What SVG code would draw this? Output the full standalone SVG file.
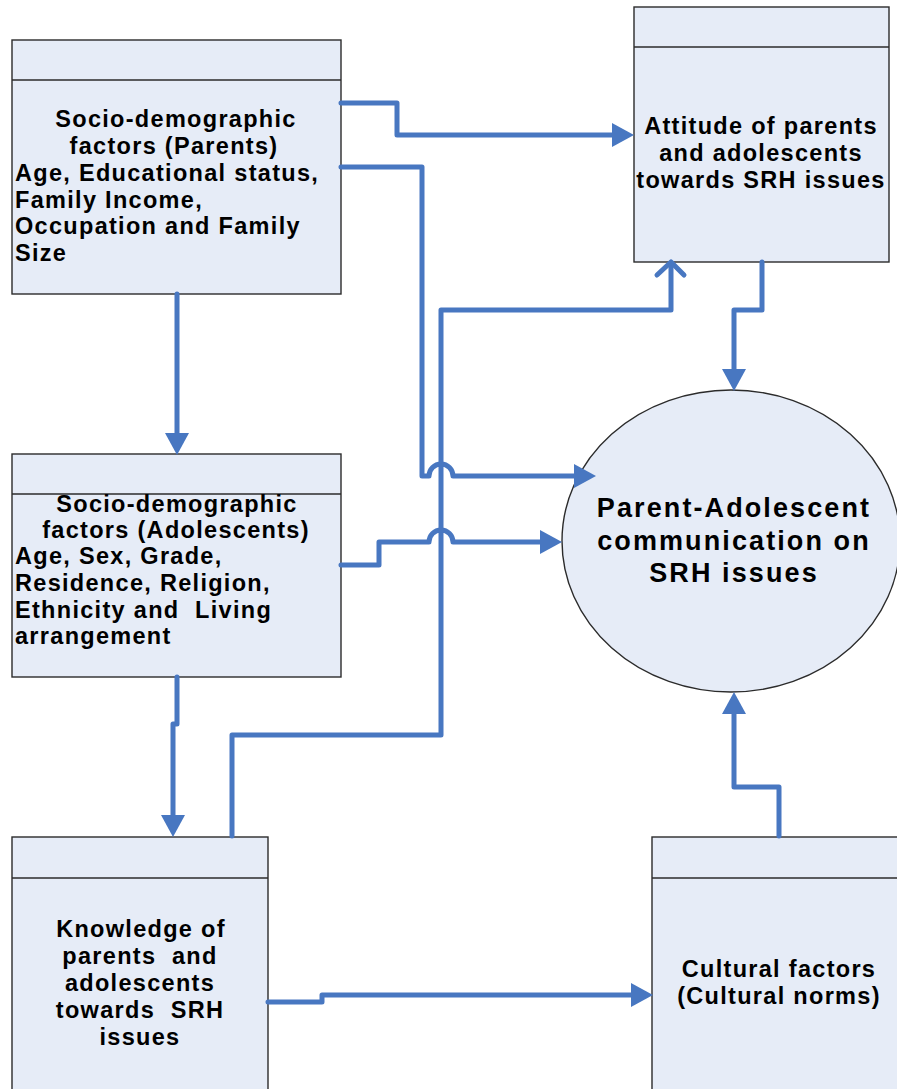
<svg xmlns="http://www.w3.org/2000/svg" width="897" height="1089" viewBox="0 0 897 1089">
<style>
.box{fill:#E6ECF7;stroke:#2b2b2b;stroke-width:1.4}
.t{font-family:"Liberation Sans",Arial,sans-serif;font-weight:bold;font-size:23.5px;letter-spacing:1.3px;fill:#000}
.c{text-anchor:middle}
.big{font-size:27px;letter-spacing:2.1px}
.con{fill:none;stroke:#4877C1;stroke-width:5;stroke-linejoin:round;stroke-linecap:round}
</style>
<defs>
<marker id="ah" markerUnits="userSpaceOnUse" markerWidth="22" markerHeight="24" refX="0" refY="12" orient="auto">
<path d="M0,0 L22,12 L0,24 z" fill="#4877C1"/>
</marker>
</defs>
<rect width="897" height="1089" fill="#fff"/>
<g id="node-parents">
<rect class="box" x="12" y="40" width="329" height="254"/>
<line class="box" x1="12" y1="80" x2="341" y2="80"/>
<text class="t c" x="176" y="127">Socio-demographic</text>
<text class="t c" x="174" y="154">factors (Parents)</text>
<text class="t" x="15" y="181">Age, Educational status,</text>
<text class="t" x="15" y="208">Family Income,</text>
<text class="t" x="15" y="234">Occupation and Family</text>
<text class="t" x="15" y="261">Size</text>
</g>
<g id="node-attitude">
<rect class="box" x="634" y="7" width="255" height="255"/>
<line class="box" x1="634" y1="47" x2="889" y2="47"/>
<text class="t c" x="761" y="134">Attitude of parents</text>
<text class="t c" x="761" y="161">and adolescents</text>
<text class="t c" x="761" y="188">towards SRH issues</text>
</g>
<g id="node-adolescents">
<rect class="box" x="12" y="454" width="329" height="223"/>
<line class="box" x1="12" y1="494" x2="341" y2="494"/>
<text class="t c" x="177" y="512">Socio-demographic</text>
<text class="t c" x="176" y="538">factors (Adolescents)</text>
<text class="t" x="15" y="564">Age, Sex, Grade,</text>
<text class="t" x="15" y="591">Residence, Religion,</text>
<text class="t" x="15" y="618" xml:space="preserve">Ethnicity and  Living</text>
<text class="t" x="15" y="644">arrangement</text>
</g>
<g id="node-communication">
<ellipse class="box" cx="731" cy="541" rx="169" ry="151"/>
<text class="t c big" x="734" y="517">Parent-Adolescent</text>
<text class="t c big" x="734" y="550">communication on</text>
<text class="t c big" x="734" y="582">SRH issues</text>
</g>
<g id="node-knowledge">
<rect class="box" x="12" y="837" width="256" height="260"/>
<line class="box" x1="12" y1="878" x2="268" y2="878"/>
<text class="t c" x="141" y="937">Knowledge of</text>
<text class="t c" x="140" y="964" xml:space="preserve">parents  and</text>
<text class="t c" x="140" y="991">adolescents</text>
<text class="t c" x="140" y="1018" xml:space="preserve">towards  SRH</text>
<text class="t c" x="140" y="1045">issues</text>
</g>
<g id="node-cultural">
<rect class="box" x="652" y="837" width="260" height="260"/>
<line class="box" x1="652" y1="878" x2="912" y2="878"/>
<text class="t c" x="779" y="977">Cultural factors</text>
<text class="t c" x="779" y="1004">(Cultural norms)</text>
</g>
<g id="connectors">
<path class="con" d="M341,103 H397 V135 H612" marker-end="url(#ah)"/>
<path class="con" d="M341,167 H422 V476 H429 A12,12 0 0 1 453,476 H574" marker-end="url(#ah)"/>
<path class="con" d="M341,565 H379 V542 H429 A12,12 0 0 1 453,542 H540" marker-end="url(#ah)"/>
<path class="con" d="M177,294 V433" marker-end="url(#ah)"/>
<path class="con" d="M177,677 V724 H173 V815" marker-end="url(#ah)"/>
<path class="con" d="M232,836 V735 H441 V310 H671 V263"/>
<path class="con" d="M657,275 L671,262 L684,275"/>
<path class="con" d="M762,262 V310 H734 V369" marker-end="url(#ah)"/>
<path class="con" d="M779,836 V787 H734 V714" marker-end="url(#ah)"/>
<path class="con" d="M268,1002 H322 V995 H631" marker-end="url(#ah)"/>
</g>
</svg>
